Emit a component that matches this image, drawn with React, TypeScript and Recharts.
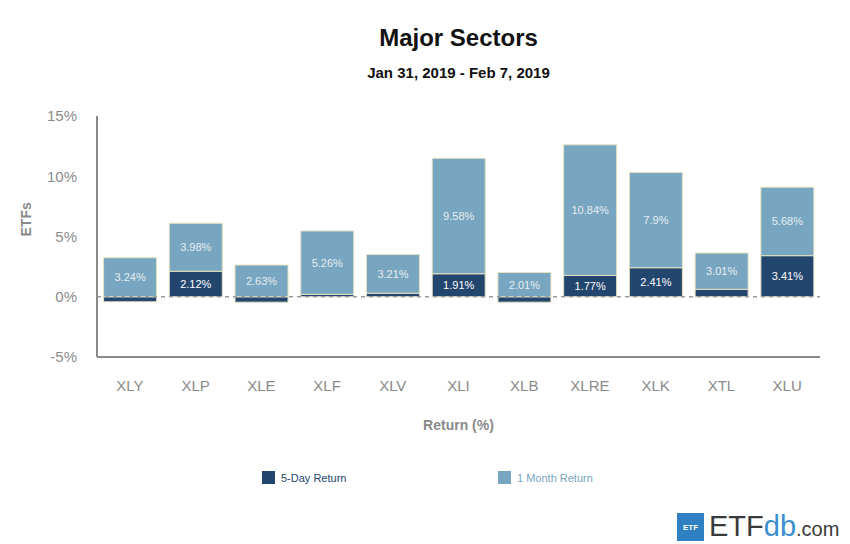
import React from 'react'
import { BarChart, Bar, XAxis, YAxis, ReferenceLine, LabelList, Label } from 'recharts'

const tickers = ['XLY', 'XLP', 'XLE', 'XLF', 'XLV', 'XLI', 'XLB', 'XLRE', 'XLK', 'XTL', 'XLU']
const fiveDay = [-0.42, 2.12, -0.45, 0.2, 0.3, 1.91, -0.45, 1.77, 2.41, 0.62, 3.41]
const oneMonth = [3.24, 3.98, 2.63, 5.26, 3.21, 9.58, 2.01, 10.84, 7.9, 3.01, 5.68]
const yTicks = [-5, 0, 5, 10, 15]

const DARK = '#23466f'
const LIGHT = '#78a5bf'
const EDGE = '#e4e2c2'
const GREY = '#8a8a8a'
const FONT = '"Liberation Sans", Arial, sans-serif'

const series = [
  { key: 'fiveDay', name: '5-Day Return', color: DARK, left: 262 },
  { key: 'oneMonth', name: '1 Month Return', color: LIGHT, left: 498 },
]

const data = tickers.map((t, i) => ({ name: t, fiveDay: fiveDay[i], oneMonth: oneMonth[i] }))

function makeLabel(fill: string, minVal: number) {
  return (props: any) => {
    const { x, y, width, height, value } = props
    if (value == null || value < minVal) return null
    return (
      <text
        x={x + width / 2}
        y={y + height / 2}
        fill={fill}
        fontSize={11}
        fontFamily={FONT}
        textAnchor="middle"
        dominantBaseline="central"
      >
        {value}%
      </text>
    )
  }
}

export default function App() {
  return (
    <div style={{ position: 'absolute', left: 0, top: 0, width: 850, height: 544, background: '#fff', fontFamily: FONT }}>
      <div style={{ position: 'absolute', left: 97, width: 723, top: 24, textAlign: 'center', fontSize: 24, fontWeight: 'bold', color: '#111' }}>
        Major Sectors
      </div>
      <div style={{ position: 'absolute', left: 97, width: 723, top: 64, textAlign: 'center', fontSize: 15, fontWeight: 'bold', color: '#111' }}>
        Jan 31, 2019 - Feb 7, 2019
      </div>
      <BarChart
        width={850}
        height={544}
        data={data}
        stackOffset="sign"
        barCategoryGap="10%"
        margin={{ top: 116, right: 30, bottom: 157, left: 37 }}
      >
        <XAxis
          dataKey="name"
          height={30}
          axisLine={{ stroke: GREY, strokeWidth: 2 }}
          tickLine={false}
          tickMargin={17}
          tick={{ fill: GREY, fontSize: 15, fontFamily: FONT }}
        >
          <Label value="Return (%)" position="bottom" offset={33} fill={GREY} fontSize={14} fontWeight="bold" fontFamily={FONT} />
        </XAxis>
        <YAxis
          width={60}
          domain={[-5, 15]}
          ticks={yTicks}
          allowDataOverflow
          tickFormatter={(v: number) => `${v}%`}
          axisLine={{ stroke: GREY, strokeWidth: 2 }}
          tickLine={false}
          tickMargin={14}
          tick={{ fill: GREY, fontSize: 15, fontFamily: FONT }}
        >
          <Label value="ETFs" angle={-90} position="insideLeft" offset={-11} fill={GREY} fontSize={14} fontWeight="bold" fontFamily={FONT} />
        </YAxis>
        <Bar dataKey="fiveDay" name="5-Day Return" stackId="a" fill={DARK} stroke={EDGE} strokeWidth={1} isAnimationActive={false}>
          <LabelList dataKey="fiveDay" content={makeLabel('#ffffff', 1)} />
        </Bar>
        <Bar dataKey="oneMonth" name="1 Month Return" stackId="a" fill={LIGHT} stroke={EDGE} strokeWidth={1} isAnimationActive={false}>
          <LabelList dataKey="oneMonth" content={makeLabel('#e6edf2', 0)} />
        </Bar>
        <ReferenceLine y={0} stroke="#9a9a9a" strokeWidth={1.5} strokeDasharray="4 4" />
      </BarChart>
      {series.map((s) => (
        <div
          key={s.key}
          style={{ position: 'absolute', left: s.left, top: 471, display: 'flex', alignItems: 'center', fontSize: 11 }}
        >
          <span style={{ width: 13, height: 13, background: s.color, display: 'inline-block', marginRight: 6 }} />
          <span style={{ color: s.color }}>{s.name}</span>
        </div>
      ))}
      <div style={{ position: 'absolute', left: 677, top: 513, width: 27, height: 28, background: '#2f80c3', color: '#fff', fontSize: 8, fontWeight: 'bold', display: 'flex', alignItems: 'center', justifyContent: 'center' }}>
        ETF
      </div>
      <div style={{ position: 'absolute', left: 709, top: 509, fontSize: 29, color: '#3a3a3a', lineHeight: '34px', whiteSpace: 'nowrap' }}>
        ETF<span style={{ color: '#3a8fd0' }}>db</span>
        <span style={{ fontSize: 20 }}>.com</span>
      </div>
    </div>
  )
}
